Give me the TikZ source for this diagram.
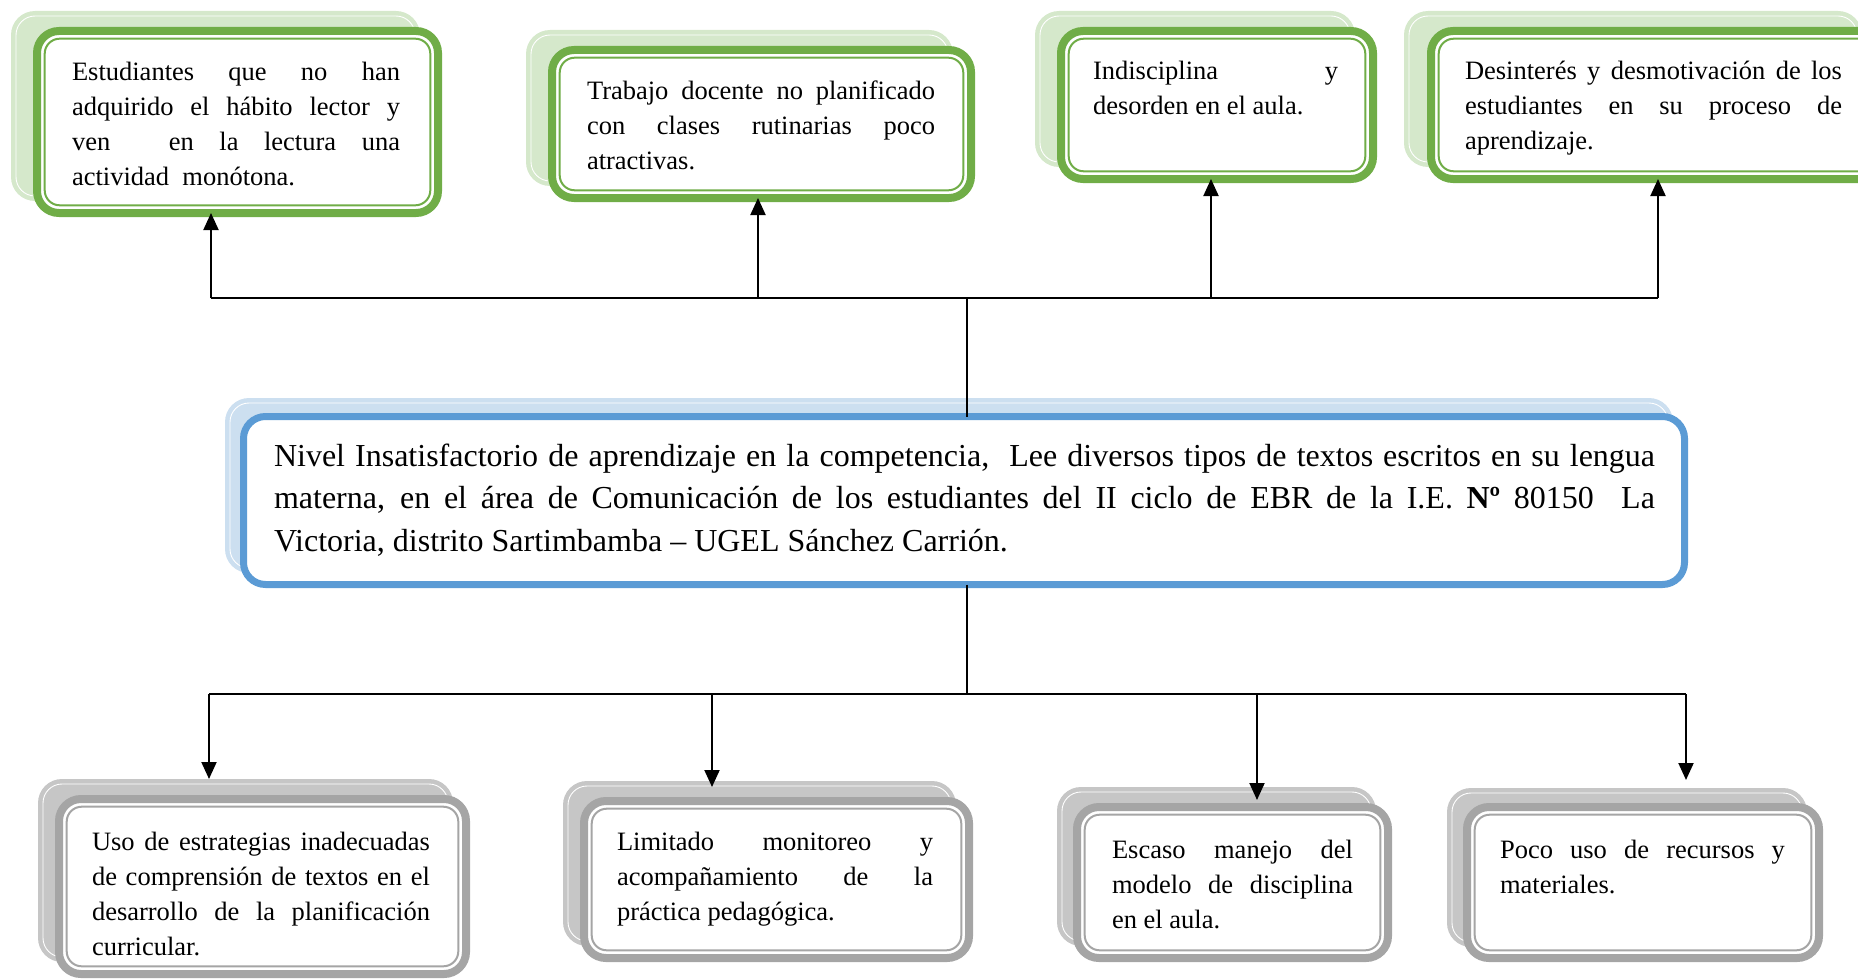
\documentclass[tikz,border=0pt]{standalone}
\usepackage{fontspec}
\setmainfont{Liberation Serif}
\usetikzlibrary{arrows.meta}
\definecolor{gmain}{RGB}{112,173,71}
\definecolor{glight}{RGB}{213,232,203}
\definecolor{bmain}{RGB}{91,155,213}
\definecolor{blight}{RGB}{204,223,240}
\definecolor{ymain}{RGB}{165,165,165}
\definecolor{ylight}{RGB}{198,198,198}
\newcommand\parset{\tolerance=10000 \pretolerance=-1 \hyphenpenalty=10000 \exhyphenpenalty=10000 }
% #1 name, #2 x1, #3 y1, #4 x2, #5 y2, #6 line colour, #7 shadow colour, #8 dx, #9 dy
\newcommand\cbox[9]{%
  \node[shadowbox, fill=#7, minimum width={(#4-#2)*1pt}, minimum height={(#5-#3)*1pt}] (#1s) at (#2-#8,#3-#9) {};
  \draw[white, line width=0.9pt, rounded corners=19pt] ([shift={(5,5)}]#1s.north west) rectangle ([shift={(-5,-5)}]#1s.south east);
  \node[mainbox, draw=#6, minimum width={(#4-#2-8)*1pt}, minimum height={(#5-#3-8)*1pt}] (#1) at (#2+4,#3+4) {};
  \draw[#6, line width=2pt, rounded corners=15pt] ([shift={(7.7,7.7)}]#1.north west) rectangle ([shift={(-7.7,-7.7)}]#1.south east);
}
\begin{document}
\begin{tikzpicture}[x=1pt, y=-1pt,
  shadowbox/.style={anchor=north west, inner sep=0pt, outer sep=0pt, rounded corners=24pt, draw=none},
  mainbox/.style={anchor=north west, fill=white, line width=8pt, rounded corners=22pt, inner sep=0pt, outer sep=0pt},
  txt/.style={anchor=base west, inner sep=0pt, outer sep=0pt, align=justify, font=\fontsize{26.5}{35}\selectfont\parset},
  ctxt/.style={anchor=base west, inner sep=0pt, outer sep=0pt, align=justify, font=\fontsize{32}{42.5}\selectfont\parset},
  conn/.style={line width=2pt, black},
  arr/.style={conn, -{Triangle[length=17pt,width=15pt]}}]
\useasboundingbox (0,0) rectangle (1858,979);

% top boxes (green)
\cbox{t1}{33}{27}{442}{217}{gmain}{glight}{22}{16}
\cbox{t2}{548}{46}{975}{202}{gmain}{glight}{22}{16}
\cbox{t3}{1057}{27}{1377}{183}{gmain}{glight}{22}{16}
\cbox{t4}{1427}{27}{1885}{183}{gmain}{glight}{23}{16}

% centre box (blue)
\node[shadowbox, fill=blight, minimum width=1448pt, minimum height=175pt] (cs) at (225,398) {};
\draw[white, line width=0.9pt, rounded corners=19pt] ([shift={(5,5)}]cs.north west) rectangle ([shift={(-5,-5)}]cs.south east);
\node[mainbox, draw=bmain, line width=7pt, minimum width=1441pt, minimum height=168pt] (c) at (243.5,416.5) {};

% bottom boxes (grey)
\cbox{b1}{55}{795}{470}{978}{ymain}{ylight}{17}{16}
\cbox{b2}{580}{797}{973}{962}{ymain}{ylight}{17}{16}
\cbox{b3}{1073}{803}{1392}{962}{ymain}{ylight}{16}{16}
\cbox{b4}{1463}{803}{1823}{962}{ymain}{ylight}{16}{15}

% texts
\node[txt, text width=328pt] (t1t) at (72,81) {Estudiantes que no han\linebreak adquirido el hábito lector y\linebreak ven\hspace{33pt} en la lectura una\linebreak actividad\ \ monótona.};
\node[txt, text width=348pt] (t2t) at (587,100) {Trabajo docente no planificado\linebreak con clases rutinarias poco\linebreak atractivas.};
\node[txt, text width=245pt] (t3t) at (1093,80) {Indisciplina y\linebreak desorden en el aula.};
\node[txt, text width=377pt] (t4t) at (1465,80) {Desinterés y desmotivación de los\linebreak estudiantes en su proceso de\linebreak aprendizaje.};
\node[ctxt, text width=1381pt] (ct) at (274,466) {Nivel Insatisfactorio de aprendizaje en la competencia,\ \ Lee diversos tipos de textos escritos en su lengua\linebreak materna, en el área de Comunicación de los estudiantes del II ciclo de EBR de la I.E. \textbf{Nº} 80150\ \ La\linebreak Victoria, distrito Sartimbamba – UGEL Sánchez Carrión.};
\node[txt, text width=338pt] (b1t) at (92,850) {Uso de estrategias inadecuadas\linebreak de comprensión de textos en el\linebreak desarrollo de la planificación\linebreak curricular.};
\node[txt, text width=316pt] (b2t) at (617,850) {Limitado monitoreo y\linebreak acompañamiento de la\linebreak práctica pedagógica.};
\node[txt, text width=241pt] (b3t) at (1112,858) {Escaso manejo del\linebreak modelo de disciplina\linebreak en el aula.};
\node[txt, text width=285pt] (b4t) at (1500,858) {Poco uso de recursos y\linebreak materiales.};

% connectors top
\coordinate (jt) at (967,298);
\coordinate (u1) at (211,298);
\coordinate (u2) at (758,298);
\coordinate (u3) at (1211,298);
\coordinate (u4) at (1658,298);
\draw[conn] (jt |- c.north) -- (jt);
\draw[conn] (u1) -- (u4);
\draw[arr] (u1) -- (u1 |- t1.south);
\draw[arr] (u2) -- (u2 |- t2.south);
\draw[arr] (u3) -- (u3 |- t3.south);
\draw[arr] (u4) -- (u4 |- t4.south);

% connectors bottom
\coordinate (jb) at (967,694);
\coordinate (d1) at (209,694);
\coordinate (d2) at (712,694);
\coordinate (d3) at (1257,694);
\coordinate (d4) at (1686,694);
\draw[conn] (jb |- c.south) -- (jb);
\draw[conn] (d1) -- (d4);
\draw[arr] (d1) -- (d1 |- b1s.north);
\draw[arr] (d2) -- ([yshift=-6pt]d2 |- b2s.north);
\draw[arr] (d3) -- ([yshift=7pt]d3 |- b3.north);
\draw[arr] (d4) -- ([yshift=8pt]d4 |- b4s.north);
\end{tikzpicture}
\end{document}
